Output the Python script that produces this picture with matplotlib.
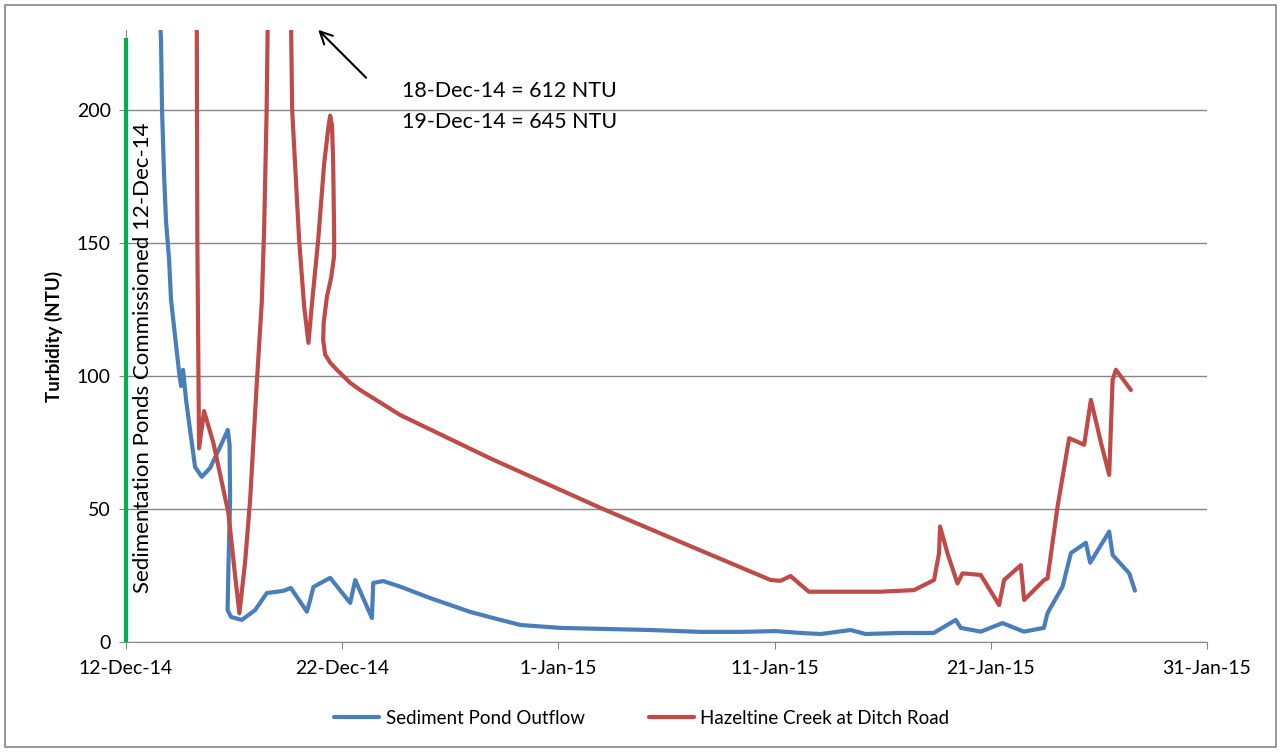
import numpy as np
import pandas as pd
import matplotlib
matplotlib.use("Agg")
import matplotlib.pyplot as plt
from matplotlib.patches import Rectangle

# Turbidity readings, x = days after 12-Dec-14
start = pd.Timestamp("2014-12-12")

pond_days = [1.435, 1.620, 1.667, 1.759, 1.852, 1.991, 2.083, 2.269, 2.454, 2.546, 2.639,
             2.778, 2.963, 3.194, 3.505, 3.889, 4.352, 4.708, 4.792, 4.815, 4.745,
             4.699, 4.861, 5.356, 5.972, 6.514, 7.269, 7.625, 8.366, 8.519, 8.671,
             9.444, 10.370, 10.602, 11.375, 11.435, 11.898, 12.685, 14.074, 15.926, 16.991,
             18.241, 20.093, 24.259, 26.574, 28.426, 30.046, 31.204, 32.130, 33.519, 34.213,
             35.833, 37.361, 38.380, 38.611, 39.537, 40.542, 41.528, 42.454, 42.625, 43.319,
             43.704, 44.398, 44.597, 45.477, 45.634, 46.403, 46.667]
pond_ntu = [260, 226, 200, 176, 158, 144, 128.6, 115, 101.5, 96.2, 102.3,
            91, 79.7, 65.8, 62.1, 65.4, 73.3, 79.7, 74, 53.4, 30.8,
            12, 9.4, 8.3, 12, 18.4, 19.2, 20.3, 11.4, 15.8, 20.7,
            24.1, 14.7, 23.3, 9, 22.2, 22.9, 20.8, 16.5, 11.3, 9,
            6.4, 5.3, 4.5, 3.8, 3.8, 4.1, 3.4, 3.0, 4.5, 3.0,
            3.4, 3.4, 8.3, 5.3, 3.9, 7.1, 3.9, 5.3, 10.9, 20.8,
            33.4, 37.3, 29.8, 41.5, 32.7, 25.8, 19.3]

creek_days = [3.264, 3.301, 3.380, 3.611, 4.042, 4.736, 5.046, 5.245, 5.509, 5.741,
              6.051, 6.282, 6.389, 6.505, 6.551, 6.806, 7.361, 7.639, 7.685, 8.009,
              8.241, 8.440, 8.611, 8.889, 9.167, 9.370, 9.444, 9.530, 9.583, 9.630, 9.620, 9.491,
              9.292, 9.144, 9.120, 9.213, 9.444, 9.755, 10.370, 10.833, 12.685, 16.852,
              21.944, 26.111, 29.815, 30.278, 30.741, 31.204, 31.588, 33.056, 34.907, 36.449,
              37.375, 37.606, 37.653, 38.009, 38.458, 38.690, 39.537, 40.384, 40.616, 41.389,
              41.542, 42.468, 42.625, 43.088, 43.625, 44.319, 44.630, 45.093, 45.477, 45.634,
              45.787, 46.481]
creek_ntu = [260, 150, 72.8, 86.8, 74.8, 48.5, 25, 10.8, 30, 53.4,
             97.4, 128, 155, 200, 230, 612, 645, 230, 200, 151,
             126, 112.4, 128, 151, 180, 194, 197.8, 194, 180, 151, 144.7, 137,
             129.7, 120, 113.5, 108, 105, 102.3, 97.4, 94.7, 85.3, 69,
             50.4, 36, 23.3, 23.0, 24.8, 21.5, 18.9, 18.9, 18.9, 19.5,
             23.3, 33.4, 43.4, 33, 22, 25.8, 25.2, 13.9, 23.3, 28.9,
             15.8, 23.3, 23.9, 50.9, 76.6, 74.1, 91, 75, 62.8, 98.5,
             102.3, 94.7]

commission_day = 0
commission_top = 227

tick_dates = ["2014-12-12", "2014-12-22", "2015-01-01", "2015-01-11", "2015-01-21", "2015-01-31"]
tick_labels = ["12-Dec-14", "22-Dec-14", "1-Jan-15", "11-Jan-15", "21-Jan-15", "31-Jan-15"]
y_ticks = [0, 50, 100, 150, 200]

def to_dates(days):
    return start + pd.to_timedelta(np.array(days), unit="D")

plt.rcParams["font.family"] = ["Lato", "DejaVu Sans"]

fig = plt.figure(figsize=(12.81, 7.52), dpi=100)
ax = fig.add_axes([126 / 1281, 1 - 642 / 752, (1207 - 126) / 1281, (642 - 30) / 752])

grid_c = "#868686"
ax.set_ylim(0, 230)
ax.set_xlim(pd.Timestamp(tick_dates[0]), pd.Timestamp(tick_dates[-1]))
ax.set_yticks(y_ticks)
ax.set_xticks(pd.to_datetime(tick_dates))
ax.set_xticklabels(tick_labels)
ax.yaxis.grid(True, color=grid_c, lw=1)
ax.set_axisbelow(True)
for s in ["top", "right"]:
    ax.spines[s].set_visible(False)
for s in ["left", "bottom"]:
    ax.spines[s].set_color(grid_c)
ax.tick_params(axis="both", colors=grid_c, length=5, labelcolor="#000000", labelsize=14)
ax.tick_params(axis="x", pad=8)
ax.tick_params(axis="y", pad=6)

ax.vlines(to_dates([commission_day]), 0, commission_top, color="#00B050", lw=3, zorder=4,
          clip_on=False)

ax.plot(to_dates(pond_days), pond_ntu, color="#4A7EBB", lw=3, solid_joinstyle="round",
        solid_capstyle="round", label="Sediment Pond Outflow", zorder=3)
ax.plot(to_dates(creek_days), creek_ntu, color="#BE4B48", lw=3, solid_joinstyle="round",
        solid_capstyle="round", label="Hazeltine Creek at Ditch Road", zorder=3)

ax.set_ylabel("Turbidity (NTU)", fontsize=13.5, fontweight="bold", labelpad=10)

# commissioning note
ax.text(to_dates([0.79])[0], 107, "Sedimentation Ponds Commissioned 12-Dec-14", rotation=90,
        ha="center", va="center", fontsize=16)

# off-scale peak note
ax.annotate("", xy=(to_dates([8.8])[0], 230.8), xytext=(to_dates([11.2])[0], 211.3),
            arrowprops=dict(arrowstyle="->", color="black", lw=1.5, mutation_scale=22),
            annotation_clip=False)
ax.text(to_dates([12.78])[0], 207, "18-Dec-14 = 612 NTU", ha="left", va="center", fontsize=15.5)
ax.text(to_dates([12.78])[0], 195.4, "19-Dec-14 = 645 NTU", ha="left", va="center", fontsize=15.5)

fig.legend(loc="center", bbox_to_anchor=(0.501, 0.045), ncol=2, frameon=False, fontsize=13.5,
           handlelength=2.4, columnspacing=3.4, handletextpad=0.35)

fig.patches.append(Rectangle((0.004, 0.006), 0.992, 0.987, transform=fig.transFigure,
                             fill=False, edgecolor=grid_c, lw=1.2))

fig.savefig("out.png", dpi=100)
